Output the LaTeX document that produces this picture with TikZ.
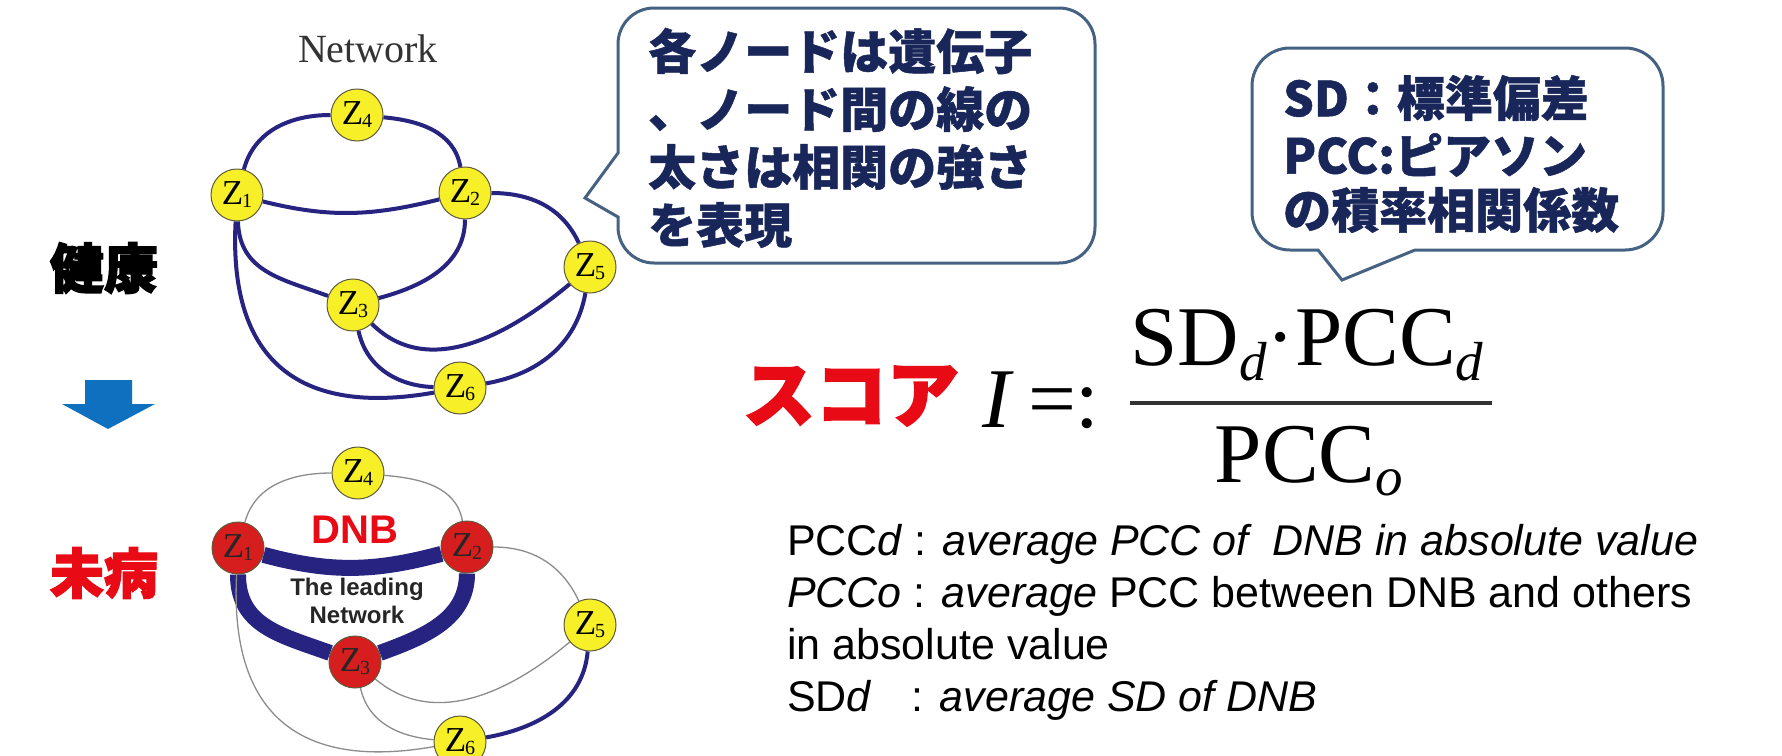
\documentclass[tikz,border=0pt]{standalone}
\usepackage{fontspec}
\usepackage{graphicx}
\usetikzlibrary{backgrounds}
\newfontfamily\cjk{Noto Sans CJK JP}[BoldFeatures={FakeBold=1}]
\newfontfamily\cjkheavy{Noto Sans CJK JP}[BoldFeatures={FakeBold=2.5}]
\newfontfamily\serifA{Liberation Serif}
\newfontfamily\sansA{Liberation Sans}
\newcommand{\setfs}[1]{\fontsize{#1}{#1}\selectfont}
\newcommand{\zlab}[1]{{\serifA\setfs{35}Z\kern-1pt\raisebox{-3pt}{\setfs{20}#1}}}
\definecolor{edgenavy}{RGB}{38,36,128}
\definecolor{thingray}{RGB}{140,140,140}
\definecolor{geneyellow}{RGB}{247,240,40}
\definecolor{dnbred}{RGB}{214,30,30}
\definecolor{nodeborder}{RGB}{95,90,60}
\definecolor{arrowblue}{RGB}{15,112,192}
\definecolor{scorered}{RGB}{232,10,20}
\definecolor{bubbleline}{RGB}{70,98,130}
\definecolor{bubbletext}{RGB}{24,38,90}
\definecolor{fracgray}{RGB}{50,50,50}
\begin{document}
\begin{tikzpicture}[x=1pt,y=1pt,
  gene/.style={circle, minimum size=52pt, inner sep=0pt, draw=nodeborder, line width=1pt, fill=geneyellow, text=black},
  dnbgene/.style={gene, fill=dnbred, text=black!85},
  edgeA/.style={draw=edgenavy, line width=4pt},
  edgeThin/.style={draw=thingray, line width=1.3pt},
  edgeThick/.style={draw=edgenavy, line width=16pt},
  bubble/.style={draw=bubbleline, line width=3pt, fill=white},
  btext/.style={anchor=west, inner sep=0pt, text=bubbletext, font=\cjk\bfseries\setfs{48}},
  bigcjk/.style={inner sep=0pt, font=\cjkheavy\bfseries\setfs{54}},
  expl/.style={anchor=base west, inner sep=0pt, font=\sansA\setfs{43}},
  formula/.style={inner sep=0pt, font=\serifA\setfs{85}}
]
\useasboundingbox (0,0) rectangle (1782,-755);
\clip (0,0) rectangle (1782,-755);

% ---------- top network ----------
\node[anchor=base, inner sep=0pt, font=\serifA\setfs{40}, text=black!80] (nettitle) at (368,-62) {Network};
\node[gene] (a1) at (237,-195) {\zlab{1}};
\node[gene] (a2) at (465,-193) {\zlab{2}};
\node[gene] (a3) at (353,-305) {\zlab{3}};
\node[gene] (a4) at (357,-115) {\zlab{4}};
\node[gene] (a5) at (590,-267) {\zlab{5}};
\node[gene] (a6) at (460,-388) {\zlab{6}};

% ---------- bottom network ----------
\node[gene] (b4) at (358,-473) {\zlab{4}};
\node[dnbgene] (b1) at (238,-548) {\zlab{1}};
\node[dnbgene] (b2) at (467,-547) {\zlab{2}};
\node[dnbgene] (b3) at (355,-662) {\zlab{3}};
\node[gene] (b5) at (590,-625) {\zlab{5}};
\node[gene] (b6) at (460,-742) {\zlab{6}};
\node[anchor=base, inner sep=0pt, font=\sansA\bfseries\setfs{40}, text=scorered] (dnb) at (355,-543) {DNB};
\node[anchor=base, inner sep=0pt, font=\sansA\bfseries\setfs{24}, text=black!85] (lead1) at (357,-595) {The leading};
\node[anchor=base, inner sep=0pt, font=\sansA\bfseries\setfs{24}, text=black!85] (lead2) at (357,-623) {Network};

\begin{pgfonlayer}{background}
\fill[white] (0,0) rectangle (1782,-755);
% top edges
\draw[edgeA] (a1) to[out=75,in=180] (a4);
\draw[edgeA] (a4) to[out=-5,in=100] (a2);
\draw[edgeA] (a1) to[out=-14,in=194] (a2);
\draw[edgeA] (a1) to[out=-88,in=160,looseness=1.1] (a3);
\draw[edgeA] (a2) to[out=-90,in=15] (a3);
\draw[edgeA] (a2) to[out=0,in=115] (a5);
\draw[edgeA] (a3) to[out=-45,in=-140] (a5);
\draw[edgeA] (a3) to[out=-78,in=178] (a6);
\draw[edgeA] (a5) to[out=-100,in=10] (a6);
\draw[edgeA] (a1) to[out=-93,in=190,looseness=1.35] (a6);
% bottom edges
\draw[edgeThin] (b1) to[out=75,in=180] (b4);
\draw[edgeThin] (b4) to[out=-5,in=100] (b2);
\draw[edgeThick] (b1) to[out=-15,in=195] (b2);
\draw[edgeThick] (b1) to[out=-90,in=160,looseness=1.1] (b3);
\draw[edgeThick] (b2) to[out=-90,in=20] (b3);
\draw[edgeThin] (b2) to[out=0,in=115] (b5);
\draw[edgeThin] (b3) to[out=-40,in=-140] (b5);
\draw[edgeThin] (b3) to[out=-78,in=175] (b6);
\draw[edgeA] (b5) to[out=-95,in=10] (b6);
\draw[edgeThin] (b1) to[out=-93,in=190,looseness=1.35] (b6);
\end{pgfonlayer}

% ---------- left labels and arrow ----------
\node[bigcjk, text=black] (kenkou) at (104,-268) {健康};
\node[bigcjk, text=scorered] (mibyou) at (104,-573) {未病};
\fill[arrowblue] (85,-380) -- (132,-380) -- (132,-404) -- (155,-404) -- (108,-429) -- (62,-404) -- (85,-404) -- cycle;

% ---------- bubble 1 ----------
\draw[bubble] (585,-198) -- (618,-217) -- (618,-222) [rounded corners=36] -- (618,-263) -- (1095,-263) -- (1095,-8) -- (618,-8) -- (618,-110) [sharp corners] -- (618,-153) -- cycle;
\node[btext] (t1) at (648,-51) {各ノードは遺伝子};
\node[btext] (t2) at (648,-109) {、ノード間の線の};
\node[btext] (t3) at (648,-167) {太さは相関の強さ};
\node[btext] (t4) at (648,-225) {を表現};

% ---------- bubble 2 ----------
\draw[bubble] (1342,-280) -- (1318,-250) -- (1305,-250) [rounded corners=38] -- (1252,-250) -- (1252,-48) -- (1663,-48) -- (1663,-250) -- (1470,-250) [sharp corners] -- (1415,-250) -- cycle;
\node[btext] (s1) at (1283,-98) {SD：標準偏差};
\node[btext] (s2) at (1283,-155) {PCC:ピアソン};
\node[btext] (s3) at (1283,-210) {の積率相関係数};

% ---------- score formula ----------
\node[inner sep=0pt, font=\cjkheavy\bfseries\setfs{72}, text=scorered] (score) at (851,-396) {スコア};
\node[formula, anchor=base west] (ieq) at (982,-427) {\textit{I}\,=:};
\node[formula, anchor=base] (num) at (1307,-365) {SD\raisebox{-15pt}{\setfs{55}\textit{d}}\raisebox{0pt}{·}PCC\raisebox{-15pt}{\setfs{55}\textit{d}}};
\node[formula, anchor=base] (den) at (1309,-482) {PCC\raisebox{-13pt}{\setfs{55}\textit{o}}};
\coordinate (fracL) at (1130,-403);
\coordinate (fracR) at (1492,-403);
\draw[fracgray, line width=4pt] (fracL) -- (fracR);

% ---------- explanation ----------
\node[expl] (e1) at (787,-555) {PCC\textit{d} : \textit{average PCC of\ \ DNB in absolute value}};
\node[expl] (e2) at (787,-607) {\textit{PCCo} : \textit{average} PCC between DNB and others};
\node[expl] (e3) at (787,-659) {in absolute value};
\node[expl] (e4) at (787,-711) {SD\textit{d}\hspace{40pt}: \textit{average SD of DNB}};
\end{tikzpicture}
\end{document}
